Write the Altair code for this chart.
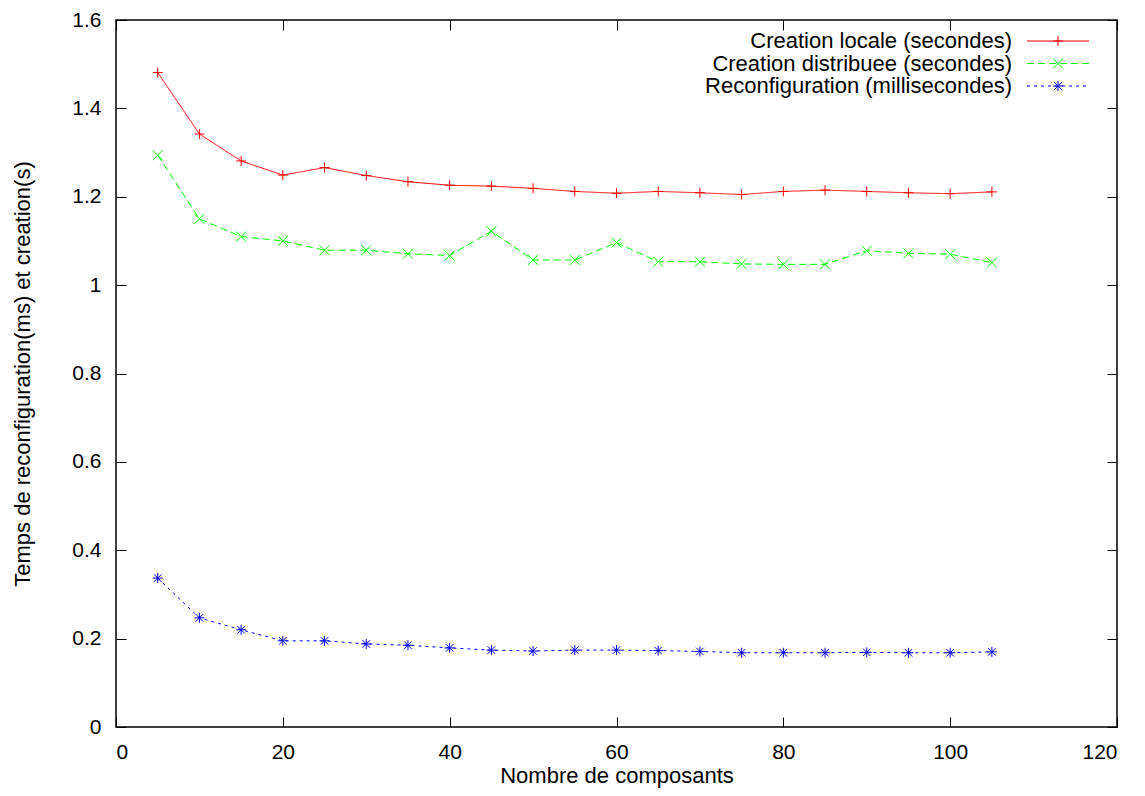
import altair as alt
import pandas as pd

# ---- data ----
n_composants = [5, 10, 15, 20, 25, 30, 35, 40, 45, 50, 55, 60, 65, 70, 75, 80, 85, 90, 95, 100, 105]
creation_locale = [1.481, 1.342, 1.281, 1.249, 1.266, 1.248, 1.234, 1.226, 1.224, 1.219, 1.212,
                   1.208, 1.212, 1.209, 1.205, 1.212, 1.215, 1.212, 1.209, 1.207, 1.211]
creation_distribuee = [1.294, 1.150, 1.110, 1.100, 1.079, 1.079, 1.071, 1.067, 1.122, 1.057, 1.057,
                       1.096, 1.053, 1.053, 1.048, 1.047, 1.047, 1.078, 1.072, 1.070, 1.051]
reconfiguration = [0.337, 0.247, 0.220, 0.195, 0.195, 0.188, 0.185, 0.179, 0.174, 0.172, 0.174,
                   0.174, 0.173, 0.171, 0.168, 0.168, 0.168, 0.169, 0.168, 0.168, 0.170]

series_names = ["Creation locale (secondes)", "Creation distribuee (secondes)",
                "Reconfiguration (millisecondes)"]
x_ticks = [0, 20, 40, 60, 80, 100, 120]
y_ticks = [0, 0.2, 0.4, 0.6, 0.8, 1.0, 1.2, 1.4, 1.6]

# ---- styles ----
series_colors = ["#ff0000", "#00ff00", "#0000ff"]
series_dashes = [[1, 0], [7, 4], [3, 4]]
shape_plus = "M-1,0L1,0M0,-1L0,1"
shape_x = "M-1,-1L1,1M-1,1L1,-1"
shape_star = "M-1,0L1,0M0,-1L0,1M-0.75,-0.75L0.75,0.75M-0.75,0.75L0.75,-0.75"
series_shapes = [shape_plus, shape_x, shape_star]

FONT = "Liberation Sans"
W, H = 1001, 707

rows = []
for name, vals in zip(series_names, [creation_locale, creation_distribuee, reconfiguration]):
    for x, v in zip(n_composants, vals):
        rows.append({"n": x, "value": v, "series": name})
df = pd.DataFrame(rows)

xscale = alt.Scale(domain=[0, 120], nice=False, zero=False)
yscale = alt.Scale(domain=[0, 1.6], nice=False)
color = alt.Color("series:N", scale=alt.Scale(domain=series_names, range=series_colors), legend=None)
dash = alt.StrokeDash("series:N", scale=alt.Scale(domain=series_names, range=series_dashes), legend=None)
shape = alt.Shape("series:N", scale=alt.Scale(domain=series_names, range=series_shapes), legend=None)

common = dict(grid=False, domain=False, ticks=True, tickSize=10, tickColor="black", tickWidth=1,
              offset=-10, labelFont=FONT, labelFontSize=21, labelColor="black",
              titleFont=FONT, titleFontSize=22, titleColor="black", titleFontWeight="normal")

x_bottom = alt.Axis(values=x_ticks, orient="bottom", labelPadding=14,
                    title="Nombre de composants", titleX=W / 2, titleY=65,
                    titleBaseline="alphabetic", titleAlign="center", **common)
y_left = alt.Axis(values=y_ticks, orient="left", labelPadding=15, format="~g",
                  title="Temps de reconfiguration(ms) et creation(s)", titleAngle=-90,
                  titleX=-97, titleY=H / 2, titleAlign="center", titleBaseline="alphabetic", **common)
x_top = alt.Axis(values=x_ticks, orient="top", labels=False, title=None, **common)
y_right = alt.Axis(values=y_ticks, orient="right", labels=False, title=None, **common)

lines = alt.Chart(df).mark_line(strokeWidth=1).encode(
    x=alt.X("n:Q", scale=xscale, axis=x_bottom),
    y=alt.Y("value:Q", scale=yscale, axis=y_left),
    color=color, strokeDash=dash,
)
points = alt.Chart(df).mark_point(filled=False, size=100, strokeWidth=1, opacity=1).encode(
    x=alt.X("n:Q", scale=xscale, axis=x_top),
    y=alt.Y("value:Q", scale=yscale, axis=y_right),
    color=color, shape=shape,
)

# ---- gnuplot-style key (top right, text then sample) ----
key_text_right = W - 105
key_line_x1, key_line_x2 = W - 90, W - 28
key_top, key_step = 21, 22.5
key_layers = []
for i, name in enumerate(series_names):
    yk = key_top + key_step * i
    key_layers.append(
        alt.Chart(pd.DataFrame({"label": [name]})).mark_text(
            align="right", baseline="middle", font=FONT, fontSize=22, color="black"
        ).encode(x=alt.value(key_text_right), y=alt.value(yk), text="label:N")
    )
    key_layers.append(
        alt.Chart(pd.DataFrame({"label": [name]})).mark_rule(
            color=series_colors[i], strokeDash=series_dashes[i], strokeWidth=1
        ).encode(x=alt.value(key_line_x1), x2=alt.value(key_line_x2), y=alt.value(yk))
    )
    key_layers.append(
        alt.Chart(pd.DataFrame({"label": [name]})).mark_point(
            shape=series_shapes[i], filled=False, size=100, strokeWidth=1, opacity=1,
            color=series_colors[i]
        ).encode(x=alt.value((key_line_x1 + key_line_x2) / 2), y=alt.value(yk))
    )

chart = alt.layer(lines, points, *key_layers).resolve_axis(
    x="independent", y="independent"
).properties(
    width=W, height=H,
    autosize=alt.AutoSizeParams(type="none"),
    padding={"left": 108, "top": 12, "right": 20, "bottom": 61},
    background="white",
).configure_view(stroke="black", strokeWidth=1.5)

chart.save("out.html", embed_options={"renderer": "svg", "actions": False})
